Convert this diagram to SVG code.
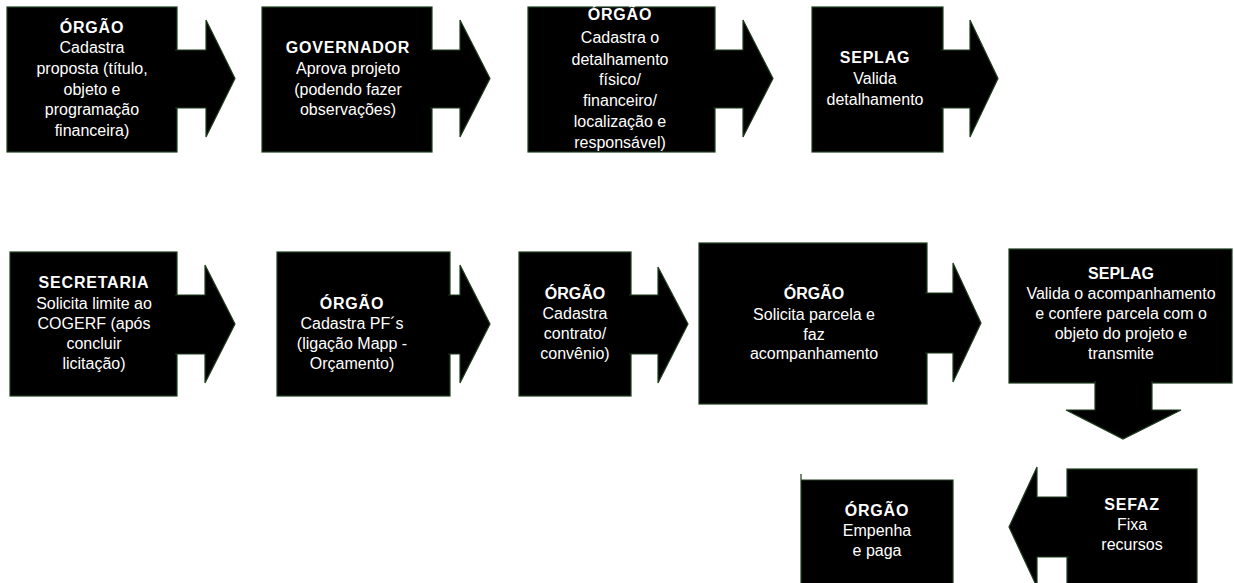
<svg xmlns="http://www.w3.org/2000/svg" width="1234" height="583" viewBox="0 0 1234 583">
<style>
.s{fill:#000;stroke:#1f3d1f;stroke-width:1.2;stroke-linejoin:miter}
text{font-family:"Liberation Sans",Arial,sans-serif;font-size:16px;fill:#fff;text-anchor:middle}
.h{font-weight:bold}
.w{letter-spacing:0.8px}
</style>
<rect width="1234" height="583" fill="#fff"/>
<g id="n1"><rect class="s" x="7" y="7" width="170" height="145"/>
<text x="92" y="32.5" class="h w">ÓRGÃO</text>
<text x="92" y="53">Cadastra</text>
<text x="92" y="74">proposta (título,</text>
<text x="92" y="94.5">objeto e</text>
<text x="92" y="115">programação</text>
<text x="92" y="135.5">financeira)</text></g>
<g id="n2"><rect class="s" x="262" y="7" width="170" height="145"/>
<text x="348" y="53" class="h w">GOVERNADOR</text>
<text x="348" y="74">Aprova projeto</text>
<text x="348" y="94.5">(podendo fazer</text>
<text x="348" y="115">observações)</text></g>
<g id="n3"><rect class="s" x="528" y="7" width="187" height="145"/>
<text x="620" y="19.5" class="h w">ÓRGÃO</text>
<text x="620" y="43">Cadastra o</text>
<text x="620" y="64.5">detalhamento</text>
<text x="620" y="85">físico/</text>
<text x="620" y="106">financeiro/</text>
<text x="620" y="127">localização e</text>
<text x="620" y="147.5">responsável)</text></g>
<g id="n4"><rect class="s" x="812" y="7" width="131" height="145"/>
<text x="875" y="63" class="h w">SEPLAG</text>
<text x="875" y="84">Valida</text>
<text x="875" y="105">detalhamento</text></g>
<g id="n5"><rect class="s" x="10" y="252" width="167" height="144"/>
<text x="94" y="288" class="h w">SECRETARIA</text>
<text x="94" y="308.5">Solicita limite ao</text>
<text x="94" y="328.5">COGERF (após</text>
<text x="94" y="348.5">concluir</text>
<text x="94" y="368.5">licitação)</text></g>
<g id="n6"><rect class="s" x="277" y="252" width="173" height="144"/>
<text x="352" y="308.5" class="h w">ÓRGÃO</text>
<text x="352" y="328.5">Cadastra PF´s</text>
<text x="352" y="348.5">(ligação Mapp -</text>
<text x="352" y="368.5">Orçamento)</text></g>
<g id="n7"><rect class="s" x="519" y="252" width="112" height="144"/>
<text x="575" y="299" class="h">ÓRGÃO</text>
<text x="575" y="319">Cadastra</text>
<text x="575" y="339">contrato/</text>
<text x="575" y="359">convênio)</text></g>
<g id="n8"><rect class="s" x="699" y="243" width="228" height="161"/>
<text x="814" y="299" class="h">ÓRGÃO</text>
<text x="814" y="319.5">Solicita parcela e</text>
<text x="814" y="339.5">faz</text>
<text x="814" y="359">acompanhamento</text></g>
<g id="n9"><rect class="s" x="1009" y="249" width="223" height="134"/>
<text x="1121" y="278.5" class="h">SEPLAG</text>
<text x="1121" y="298.5">Valida o acompanhamento</text>
<text x="1121" y="318.5">e confere parcela com o</text>
<text x="1121" y="338.5">objeto do projeto e</text>
<text x="1121" y="358.5">transmite</text></g>
<g id="n10"><path class="s" d="M801,474 L801,590 L953,590 L953,480 L801,480"/>
<text x="877" y="516" class="h w">ÓRGÃO</text>
<text x="877" y="536">Empenha</text>
<text x="877" y="556">e paga</text></g>
<g id="n11"><rect class="s" x="1067" y="469" width="130" height="125"/>
<text x="1132" y="510" class="h w">SEFAZ</text>
<text x="1132" y="530">Fixa</text>
<text x="1132" y="550">recursos</text></g>
<g id="connectors">
<path class="s" d="M175,50 L206,50 L206,20 L235,78.5 L206,137 L206,108 L175,108"/>
<path class="s" d="M430,50 L460,50 L460,20 L490,78.5 L460,137 L460,108 L430,108"/>
<path class="s" d="M713,50 L743,50 L743,20 L773,78.5 L743,137 L743,108 L713,108"/>
<path class="s" d="M941,50 L970,50 L970,20 L998,78.5 L970,137 L970,108 L941,108"/>
<path class="s" d="M175,295 L205,295 L205,265 L235,324 L205,383 L205,354 L175,354"/>
<path class="s" d="M448,295 L460,295 L460,265 L490,324 L460,383 L460,354 L448,354"/>
<path class="s" d="M629,295 L658,295 L658,267 L688,324 L658,383 L658,354 L629,354"/>
<path class="s" d="M925,293 L953,293 L953,263 L981,323 L953,382 L953,353 L925,353"/>
<path class="s" d="M1095,381 L1095,410 L1066,410 L1123,439 L1181,410 L1152,410 L1152,381"/>
<path class="s" d="M1069,497 L1037,497 L1037,467 L1009,527 L1037,587 L1037,557 L1069,557"/>
</g>
</svg>
